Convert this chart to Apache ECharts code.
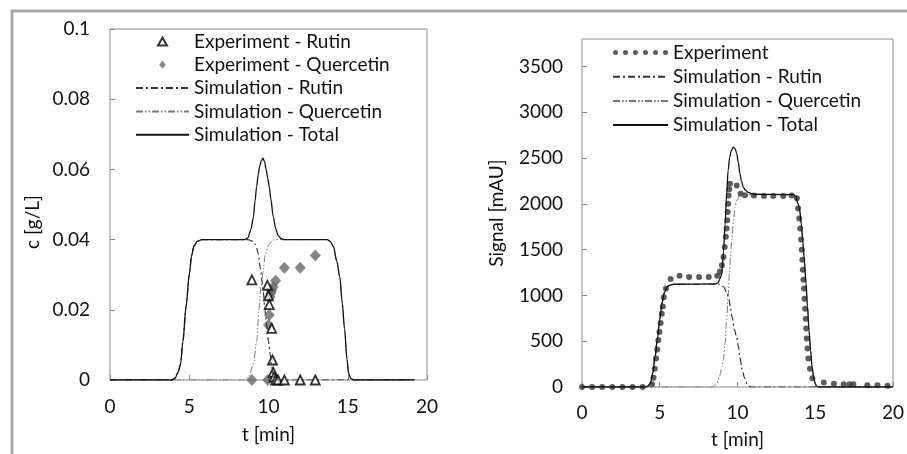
<!DOCTYPE html>
<html>
<head>
<meta charset="utf-8">
<title>Rutin / Quercetin</title>
<script src="https://cdn.jsdelivr.net/npm/echarts@6/dist/echarts.min.js"></script>
<style>
  html, body { margin: 0; padding: 0; background: #fff; }
  #main { width: 907px; height: 454px; }
</style>
</head>
<body>
<div id="main"></div>
<script>
// left panel: c [g/L] over t [min]
var expRutinL = [[8.95, 0.0285], [9.93, 0.027], [10.0, 0.024], [10.05, 0.0215], [10.2, 0.0147], [10.25, 0.0057],
  [10.3, 0.0022], [10.35, 0.0008], [10.45, 0], [10.6, 0], [11.0, 0], [12.0, 0], [12.95, 0]];
var expQuercL = [[8.95, 0], [9.95, 0], [10.0, 0.0157], [10.05, 0.0185], [10.1, 0.0237], [10.15, 0.0248], [10.2, 0.0255],
  [10.3, 0.0265], [10.45, 0.0283], [11.0, 0.032], [12.0, 0.032], [12.95, 0.0355]];
var simTotalL = [[0, 0], [3.9, 0], [4.1, 0.0005], [4.3, 0.0022], [4.45, 0.0045], [4.6, 0.011], [4.8, 0.021], [5.0, 0.030],
  [5.15, 0.0355], [5.3, 0.0382], [5.5, 0.0395], [5.8, 0.04], [8.5, 0.04], [8.7, 0.0405], [8.9, 0.043], [9.05, 0.0465],
  [9.15, 0.051], [9.25, 0.055], [9.35, 0.0585], [9.45, 0.061], [9.55, 0.0625], [9.65, 0.0632], [9.75, 0.0622],
  [9.85, 0.06], [9.95, 0.0575], [10.05, 0.055], [10.15, 0.0515], [10.3, 0.0465], [10.45, 0.0432], [10.6, 0.0412],
  [10.8, 0.0403], [11.0, 0.04], [13.7, 0.04], [13.9, 0.0395], [14.1, 0.038], [14.3, 0.034], [14.5, 0.0294],
  [14.65, 0.022], [14.8, 0.0145], [14.95, 0.006], [15.05, 0.0019], [15.2, 0.0004], [15.4, 0], [19.2, 0]];
var simRutinL = [[0, 0], [3.9, 0], [4.1, 0.0005], [4.3, 0.0022], [4.45, 0.0045], [4.6, 0.011], [4.8, 0.021], [5.0, 0.030],
  [5.15, 0.0355], [5.3, 0.0382], [5.5, 0.0395], [5.8, 0.04], [8.7, 0.04], [9.0, 0.0395], [9.2, 0.0385], [9.35, 0.036],
  [9.5, 0.0315], [9.6, 0.028], [9.67, 0.025], [9.78, 0.02], [9.88, 0.0157], [10.0, 0.011], [10.1, 0.0075],
  [10.2, 0.004], [10.3, 0.0015], [10.4, 0.0003], [10.55, 0], [19.2, 0]];
var simQuercL = [[0, 0], [8.5, 0], [8.75, 0.001], [9.05, 0.0045], [9.25, 0.011], [9.4, 0.02], [9.53, 0.027], [9.67, 0.031],
  [9.78, 0.0355], [10.0, 0.0385], [10.2, 0.0395], [10.4, 0.04], [13.7, 0.04], [13.9, 0.0395], [14.1, 0.038],
  [14.3, 0.034], [14.5, 0.0294], [14.65, 0.022], [14.8, 0.0145], [14.95, 0.006], [15.05, 0.0019], [15.2, 0.0004],
  [15.4, 0], [19.2, 0]];

// right panel: Signal [mAU] over t [min]
var expSignalR = [[0, 0], [0.65, 0], [1.3, 0], [1.95, 0], [2.6, 0], [3.25, 0], [3.9, 0], [4.5, 30], [4.6, 100], [4.68, 200],
  [4.76, 310], [4.84, 410], [4.91, 510], [4.98, 600], [5.06, 700], [5.13, 800], [5.2, 880], [5.26, 980], [5.4, 1075],
  [5.7, 1180], [6.27, 1215], [6.89, 1200], [7.53, 1200], [8.15, 1200], [8.7, 1215], [8.88, 1260], [9.0, 1330],
  [9.1, 1420], [9.18, 1530], [9.25, 1640], [9.3, 1730], [9.34, 1820], [9.37, 1910], [9.4, 2000], [9.43, 2090],
  [9.47, 2160], [9.52, 2220], [9.95, 2200], [10.2, 2110], [10.48, 2095], [11.06, 2090], [11.7, 2085], [12.3, 2085],
  [12.94, 2085], [13.48, 2090], [13.82, 2060], [13.9, 1950], [13.97, 1840], [14.03, 1730], [14.09, 1610],
  [14.13, 1500], [14.17, 1390], [14.2, 1280], [14.24, 1170], [14.28, 1075], [14.31, 965], [14.35, 855], [14.39, 745],
  [14.42, 640], [14.46, 530], [14.5, 420], [14.56, 310], [14.66, 200], [14.82, 95], [15.55, 50], [16.2, 35],
  [16.83, 30], [17.2, 30], [17.45, 30], [18.35, 20], [19.0, 20], [19.65, 15]];
var simTotalR = [[0, 0], [4.0, 0], [4.2, 5], [4.4, 40], [4.55, 150], [4.7, 330], [4.85, 530], [5.0, 740], [5.15, 920],
  [5.3, 1030], [5.45, 1085], [5.6, 1110], [5.9, 1122], [8.6, 1125], [8.75, 1140], [8.9, 1190], [9.0, 1250],
  [9.1, 1480], [9.2, 1770], [9.3, 2100], [9.4, 2370], [9.5, 2510], [9.6, 2580], [9.73, 2620], [9.85, 2600],
  [9.95, 2550], [10.05, 2455], [10.16, 2330], [10.25, 2250], [10.37, 2185], [10.5, 2150], [10.7, 2125], [11.0, 2105],
  [13.6, 2100], [13.75, 2080], [13.9, 2000], [14.0, 1930], [14.1, 1780], [14.2, 1600], [14.3, 1380], [14.4, 1140],
  [14.5, 880], [14.6, 620], [14.7, 400], [14.8, 220], [14.9, 100], [15.0, 35], [15.1, 8], [15.2, 0], [20, 0]];
var simRutinR = [[0, 0], [4.0, 0], [4.2, 5], [4.4, 40], [4.55, 150], [4.7, 330], [4.85, 530], [5.0, 740], [5.15, 920],
  [5.3, 1030], [5.45, 1085], [5.6, 1110], [5.9, 1122], [8.9, 1122], [9.1, 1095], [9.3, 1040], [9.45, 960],
  [9.55, 860], [9.65, 760], [9.8, 630], [9.95, 540], [10.05, 450], [10.15, 330], [10.3, 190], [10.45, 100],
  [10.6, 40], [10.75, 10], [10.9, 0], [20, 0]];
var simQuercR = [[0, 0], [8.4, 0], [8.66, 37], [8.85, 120], [9.0, 220], [9.1, 300], [9.2, 480], [9.3, 720], [9.4, 1000],
  [9.48, 1240], [9.55, 1420], [9.63, 1600], [9.75, 1820], [9.84, 1965], [9.95, 2040], [10.16, 2090], [10.5, 2100],
  [13.6, 2100], [13.75, 2080], [13.9, 2000], [14.0, 1930], [14.1, 1780], [14.2, 1600], [14.3, 1380], [14.4, 1140],
  [14.5, 880], [14.6, 620], [14.7, 400], [14.8, 220], [14.9, 100], [15.0, 35], [15.1, 8], [15.2, 0], [20, 0]];

var xTicks = [0, 5, 10, 15, 20];
var cTicks = [0, 0.02, 0.04, 0.06, 0.08, 0.1];
var signalTicks = [0, 500, 1000, 1500, 2000, 2500, 3000, 3500];

var FONT = 'Lato, "Open Sans", sans-serif';
var FS = 19;
var triangleIcon = 'path://M5,0L10,9L0,9Z';
var diamondIcon = 'path://M4,0L8,5L4,10L0,5Z';
var dotsIcon = 'path://M0,2.5a2.5,2.5 0 1,0 5,0a2.5,2.5 0 1,0 -5,0' +
  'M10,2.5a2.5,2.5 0 1,0 5,0a2.5,2.5 0 1,0 -5,0M20,2.5a2.5,2.5 0 1,0 5,0a2.5,2.5 0 1,0 -5,0' +
  'M30,2.5a2.5,2.5 0 1,0 5,0a2.5,2.5 0 1,0 -5,0M40,2.5a2.5,2.5 0 1,0 5,0a2.5,2.5 0 1,0 -5,0' +
  'M50,2.5a2.5,2.5 0 1,0 5,0a2.5,2.5 0 1,0 -5,0';

function xAxisOf(gridIndex, gap, margin) {
  return {
    type: 'value', gridIndex: gridIndex, min: xTicks[0], max: xTicks[xTicks.length - 1], interval: 5,
    name: 't [min]', nameLocation: 'middle', nameGap: gap,
    nameTextStyle: { fontFamily: FONT, fontSize: FS, color: '#111' },
    axisLine: { show: false },
    axisTick: { inside: true, length: 5, lineStyle: { color: '#888' } },
    axisLabel: { margin: margin, fontFamily: FONT, fontSize: FS, color: '#111' },
    splitLine: { show: false }
  };
}

function simLine(name, data, xi, dash, color, width) {
  return {
    name: name, type: 'line', data: data, xAxisIndex: xi, yAxisIndex: xi,
    symbol: 'none', smooth: 0.3, smoothMonotone: 'x',
    itemStyle: { color: color, opacity: 0 },
    lineStyle: { color: color, width: width, type: dash }
  };
}

var rutinDash = [7, 3, 2, 3];
var quercDash = [7, 2, 1.5, 2, 1.5, 2];

var myChart = echarts.init(document.getElementById('main'));
var option = {
  animation: false,
  backgroundColor: '#fff',
  grid: [
    { left: 110, top: 29, width: 317, height: 351, show: true, borderColor: '#8c8c8c', borderWidth: 1 },
    { left: 582, top: 39, width: 311, height: 348, show: true, borderColor: '#8c8c8c', borderWidth: 1 }
  ],
  xAxis: [xAxisOf(0, 45, 17), xAxisOf(1, 43, 16)],
  yAxis: [
    {
      type: 'value', gridIndex: 0, min: cTicks[0], max: cTicks[cTicks.length - 1], interval: 0.02,
      axisLine: { show: false },
      axisTick: { inside: true, length: 5, lineStyle: { color: '#888' } },
      axisLabel: {
        margin: 20, fontFamily: FONT, fontSize: FS, color: '#111',
        formatter: function (v) { return String(+v.toFixed(2)); }
      },
      splitLine: { show: false }
    },
    {
      type: 'value', gridIndex: 1, min: signalTicks[0], max: 3800, interval: 500,
      axisLine: { show: false },
      axisTick: { inside: true, length: 5, lineStyle: { color: '#888' } },
      axisLabel: {
        margin: 19, fontFamily: FONT, fontSize: FS, color: '#111', showMaxLabel: false,
        formatter: function (v) { return String(v); }
      },
      splitLine: { show: false }
    }
  ],
  legend: [
    {
      orient: 'vertical', left: 135, top: 32, padding: 0, itemWidth: 53, itemHeight: 8, itemGap: 4.3,
      textStyle: { fontFamily: FONT, fontSize: FS, color: '#111' },
      data: [
        { name: 'Experiment - Rutin', icon: triangleIcon },
        { name: 'Experiment - Quercetin', icon: diamondIcon },
        'Simulation - Rutin', 'Simulation - Quercetin', 'Simulation - Total'
      ]
    },
    {
      orient: 'vertical', left: 612, top: 43, padding: 0, itemWidth: 55, itemHeight: 8, itemGap: 5.2,
      textStyle: { fontFamily: FONT, fontSize: FS, color: '#111' },
      data: [{ name: 'Experiment', icon: dotsIcon }, 'Simulation - Rutin', 'Simulation - Quercetin', 'Simulation - Total']
    }
  ],
  graphic: [
    { type: 'rect', silent: true, shape: { x: 12, y: 11, width: 1000, height: 1000 },
      style: { fill: null, stroke: '#a6a6a6', lineWidth: 3 } },
    { type: 'text', x: 33, y: 222, rotation: Math.PI / 2,
      style: { text: 'c [g/L]', font: FS + 'px ' + FONT, fill: '#111', align: 'center', verticalAlign: 'middle' } },
    { type: 'text', x: 497, y: 213, rotation: Math.PI / 2,
      style: { text: 'Signal [mAU]', font: FS + 'px ' + FONT, fill: '#111', align: 'center', verticalAlign: 'middle' } }
  ],
  series: [
    simLine('Simulation - Quercetin', simQuercL, 0, quercDash, '#777', 1),
    simLine('Simulation - Rutin', simRutinL, 0, rutinDash, '#333', 1.2),
    simLine('Simulation - Total', simTotalL, 0, 'solid', '#111', 1.3),
    {
      name: 'Experiment - Quercetin', type: 'scatter', data: expQuercL, xAxisIndex: 0, yAxisIndex: 0,
      symbol: 'diamond', symbolSize: [11, 12], itemStyle: { color: '#666' }
    },
    {
      name: 'Experiment - Rutin', type: 'scatter', data: expRutinL, xAxisIndex: 0, yAxisIndex: 0,
      symbol: 'triangle', symbolSize: 9, itemStyle: { color: '#fff', borderColor: '#000', borderWidth: 1.8 }
    },
    simLine('Simulation - Quercetin', simQuercR, 1, quercDash, '#777', 1),
    simLine('Simulation - Rutin', simRutinR, 1, rutinDash, '#333', 1.2),
    simLine('Simulation - Total', simTotalR, 1, 'solid', '#111', 1.3),
    {
      name: 'Experiment', type: 'scatter', data: expSignalR, xAxisIndex: 1, yAxisIndex: 1,
      symbol: 'circle', symbolSize: 6, itemStyle: { color: '#333' }
    }
  ]
};
myChart.setOption(option);
</script>
</body>
</html>
